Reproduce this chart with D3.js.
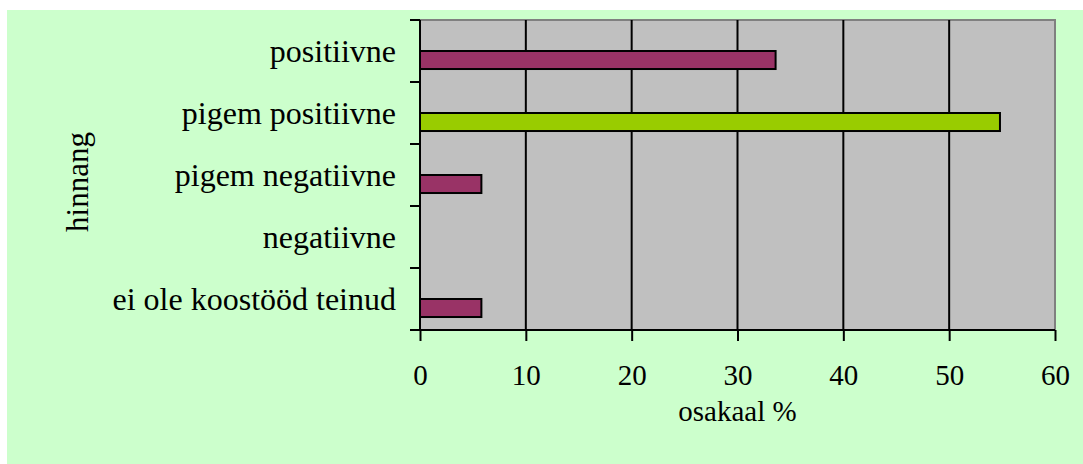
<!DOCTYPE html>
<html>
<head>
<meta charset="utf-8">
<script src="https://cdn.jsdelivr.net/npm/d3@7"></script>
<style>
	body { margin: 0; background: #ffffff; }
	text { font-family: "Liberation Serif", "Times New Roman", serif; fill: #000000; }
</style>
</head>
<body>
<div id="chart"></div>
<script>

var categories = ["positiivne", "pigem positiivne", "pigem negatiivne", "negatiivne", "ei ole koostööd teinud"];
var values = [33.6, 54.8, 5.8, 0, 5.8];
var barColors = ["#993366", "#99CC00", "#993366", "#993366", "#993366"];
var series = ["tühi", "osakaal"];
var xTicks = [0, 10, 20, 30, 40, 50, 60];


var width = 1083, height = 464,
	plot = {left: 420, right: 1055, top: 20, bottom: 330};

var svg = d3.select("#chart")
	.append("svg")
		.attr("width", width)
		.attr("height", height);

svg.append("rect")
	.attr("x", 7).attr("y", 10)
	.attr("width", width - 7).attr("height", height - 10)
	.attr("fill", "#CCFFCC");

var xScale = d3.scaleLinear().domain([0, 60]).range([plot.left, plot.right]);
var yScale = d3.scaleBand().domain(categories).range([plot.top, plot.bottom]);
var ySeries = d3.scaleBand().domain(series).range([0, yScale.bandwidth()]).paddingOuter(0.72);

// plot area
svg.append("rect")
	.attr("x", plot.left).attr("y", plot.top)
	.attr("width", plot.right - plot.left).attr("height", plot.bottom - plot.top)
	.attr("fill", "#C0C0C0");

svg.append("path")
	.attr("d", "M" + plot.left + "," + plot.top + "H" + plot.right + "V" + plot.bottom)
	.attr("fill", "none")
	.attr("stroke", "#808080")
	.attr("stroke-width", 2);

// grid lines
svg.append("g")
	.selectAll("line")
	.data(xTicks.slice(1, -1))
	.enter().append("line")
		.attr("x1", function(d) { return xScale(d); })
		.attr("x2", function(d) { return xScale(d); })
		.attr("y1", plot.top)
		.attr("y2", plot.bottom)
		.attr("stroke", "#000000")
		.attr("stroke-width", 2);

// bars
svg.append("g")
	.selectAll("rect")
	.data(values.map(function(v, i) { return {cat: categories[i], value: v, color: barColors[i]}; })
		.filter(function(d) { return d.value > 0; }))
	.enter().append("rect")
		.attr("x", xScale(0))
		.attr("y", function(d) { return yScale(d.cat) + ySeries("osakaal"); })
		.attr("width", function(d) { return xScale(d.value) - xScale(0); })
		.attr("height", ySeries.bandwidth())
		.attr("fill", function(d) { return d.color; })
		.attr("stroke", "#000000")
		.attr("stroke-width", 2);

// x axis
var xAxis = d3.axisBottom().scale(xScale).tickValues(xTicks).tickSize(11).tickPadding(23);

var gx = svg.append("g")
	.attr("transform", "translate(0," + plot.bottom + ")")
	.call(xAxis);

gx.select(".domain").attr("d", "M" + (plot.left - 10) + ",0H" + plot.right).attr("stroke", "#000").attr("stroke-width", 2);
gx.selectAll(".tick line").attr("stroke", "#000").attr("stroke-width", 2);
gx.selectAll(".tick text").attr("font-size", 29).attr("font-family", null).attr("fill", "#000");

// y axis
var yAxis = d3.axisLeft().scale(yScale).tickSize(0).tickPadding(24);

var gy = svg.append("g")
	.attr("transform", "translate(" + plot.left + ",0)")
	.call(yAxis);

gy.select(".domain").attr("d", "M0," + plot.top + "V" + (plot.bottom + 1)).attr("stroke", "#000").attr("stroke-width", 2);
gy.selectAll(".tick text").attr("font-size", 32).attr("font-family", null).attr("fill", "#000").attr("dy", "0.33em");

gy.append("g")
	.selectAll("line")
	.data(categories.concat([null]))
	.enter().append("line")
		.attr("x1", -10).attr("x2", 0)
		.attr("y1", function(d) { return d === null ? plot.bottom : yScale(d); })
		.attr("y2", function(d) { return d === null ? plot.bottom : yScale(d); })
		.attr("stroke", "#000")
		.attr("stroke-width", 2);

// axis titles
svg.append("text")
	.attr("x", (plot.left + plot.right) / 2)
	.attr("y", 421)
	.attr("text-anchor", "middle")
	.attr("font-size", 29)
	.text("osakaal %");

svg.append("text")
	.attr("transform", "translate(88,182) rotate(-90)")
	.attr("text-anchor", "middle")
	.attr("font-size", 31)
	.text("hinnang");

</script>
</body>
</html>
